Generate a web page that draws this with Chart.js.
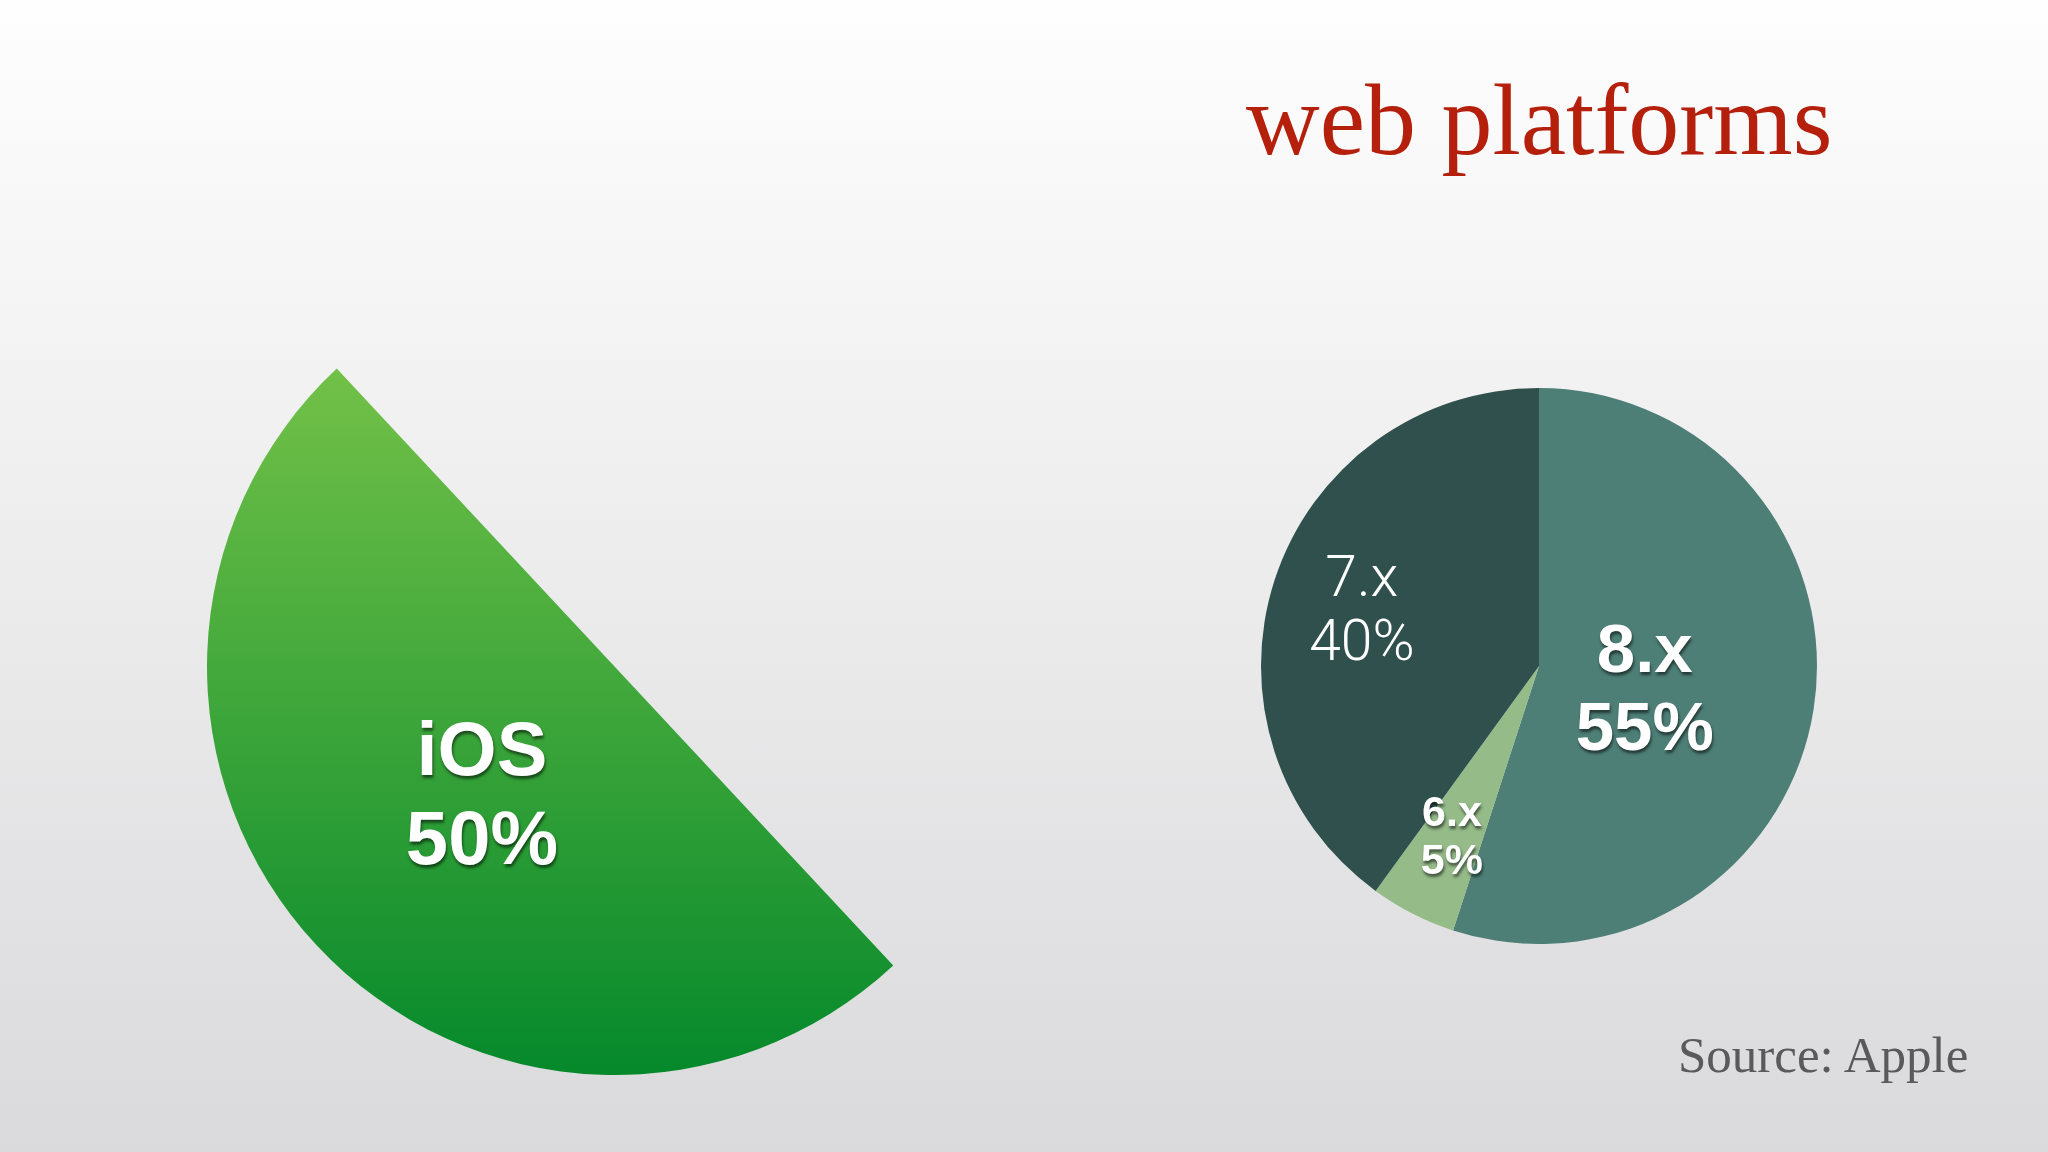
<!DOCTYPE html>
<html>
<head>
<meta charset="utf-8">
<script src="https://cdn.jsdelivr.net/npm/chart.js@4.4.1/dist/chart.umd.min.js"></script>
<style>
  html, body { margin: 0; padding: 0; }
  body {
    width: 2048px; height: 1152px; overflow: hidden; position: relative;
    background: linear-gradient(to bottom, #fefefe 0%, #ececed 50%, #dadadc 100%);
  }
  .title {
    position: absolute; left: 1246px; top: 69px;
    font: 102px/1 "Liberation Serif", "DejaVu Serif", serif;
    color: #b5200d; white-space: nowrap;
  }
  .source {
    position: absolute; left: 1678px; top: 1030px;
    font: 51px/1 "Liberation Serif", "DejaVu Serif", serif;
    color: #5a5a5c; white-space: nowrap;
  }
  #ios { position: absolute; left: 207px; top: 259px; }
  #versions { position: absolute; left: 1261px; top: 388px; }
</style>
</head>
<body>
<div class="title">web platforms</div>
<div class="source">Source: Apple</div>
<canvas id="ios" width="816" height="816"></canvas>
<canvas id="versions" width="556" height="556"></canvas>
<script>
// data
const platformLabels = ['iOS', ''];
const platformValues = [50, 50];
const versionLabels = ['8.x', '6.x', '7.x'];
const versionValues = [55, 5, 40];
const versionColors = ['#4d7f76', '#95bb89', '#2f504d'];

// draws "label / value%" inside each slice, along its middle angle
const sliceText = {
  id: 'sliceText',
  afterDatasetsDraw(chart, args, opts) {
    const ctx = chart.ctx;
    const meta = chart.getDatasetMeta(0);
    const values = chart.data.datasets[0].data;
    meta.data.forEach(function(arc, i) {
      const name = chart.data.labels[i];
      if (!name) return;
      const p = arc.getProps(['x', 'y', 'startAngle', 'endAngle', 'outerRadius'], true);
      const mid = (p.startAngle + p.endAngle) / 2;
      const r = p.outerRadius * opts.frac[i];
      const cx = p.x + Math.cos(mid) * r;
      const cy = p.y + Math.sin(mid) * r + opts.lift[i];
      ctx.save();
      ctx.font = opts.font[i];
      ctx.fillStyle = '#ffffff';
      ctx.textAlign = 'center';
      ctx.textBaseline = 'middle';
      if (opts.shadow[i]) {
        ctx.shadowColor = 'rgba(0,0,0,0.55)';
        ctx.shadowOffsetX = 1;
        ctx.shadowOffsetY = 3;
        ctx.shadowBlur = 3;
      }
      ctx.fillText(name, cx, cy - opts.gap[i] / 2);
      ctx.fillText(values[i] + '%', cx, cy + opts.gap[i] / 2);
      ctx.restore();
    });
  }
};

// first slice gets the green gradient, the rest of the circle stays empty
function platformFill(context) {
  if (context.dataIndex !== 0) return 'rgba(0,0,0,0)';
  const chart = context.chart;
  const area = chart.chartArea;
  if (!area) return '#3fa63a';
  const g = chart.ctx.createLinearGradient(0, area.top, 0, area.bottom);
  g.addColorStop(0, '#80c850');
  g.addColorStop(0.136, '#72c148');
  g.addColorStop(1, '#05892b');
  return g;
}

const baseOptions = {
  responsive: false,
  animation: false,
  events: [],
  layout: { padding: 0 },
  plugins: { legend: { display: false }, tooltip: { enabled: false } }
};

new Chart(document.getElementById('ios'), {
  type: 'pie',
  data: {
    labels: platformLabels,
    datasets: [{
      data: platformValues,
      backgroundColor: platformFill,
      borderWidth: 0,
      hoverOffset: 0
    }]
  },
  options: Object.assign({}, baseOptions, {
    rotation: 137,
    plugins: Object.assign({}, baseOptions.plugins, {
      sliceText: {
        frac: [0.446, 0],
        font: ['bold 76px "Liberation Sans", Arial, sans-serif', ''],
        gap: [89, 0],
        lift: [7, 0],
        shadow: [true, false]
      }
    })
  }),
  plugins: [sliceText]
});

new Chart(document.getElementById('versions'), {
  type: 'pie',
  data: {
    labels: versionLabels,
    datasets: [{
      data: versionValues,
      backgroundColor: versionColors,
      borderWidth: 0,
      hoverOffset: 0
    }]
  },
  options: Object.assign({}, baseOptions, {
    rotation: 0,
    plugins: Object.assign({}, baseOptions.plugins, {
      sliceText: {
        frac: [0.385, 0.69, 0.67],
        font: [
          'bold 69px "Liberation Sans", Arial, sans-serif',
          'bold 43px "Liberation Sans", Arial, sans-serif',
          '300 57px Roboto, Lato, "Open Sans", sans-serif'
        ],
        gap: [78, 48, 64],
        lift: [9, 1, 5],
        shadow: [true, true, false]
      }
    })
  }),
  plugins: [sliceText]
});
</script>
</body>
</html>
